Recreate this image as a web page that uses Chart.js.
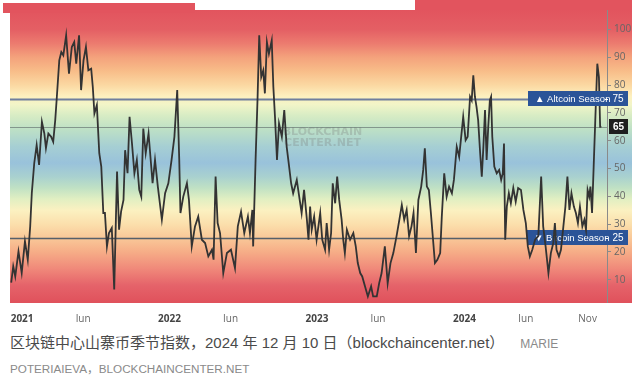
<!DOCTYPE html>
<html><head><meta charset="utf-8">
<script src="https://cdn.jsdelivr.net/npm/chart.js@4/dist/chart.umd.min.js"></script>
<style>
html,body{margin:0;padding:0;background:#fff;width:640px;height:382px;overflow:hidden}
#wrap{position:relative;width:640px;height:322px}
#cap1{position:absolute;left:10px;top:331px;font-family:"Liberation Sans","Noto Sans CJK SC",sans-serif;font-size:15px;color:#4a4a4a;white-space:nowrap;line-height:24px}
#cap1 span{font-size:12px;color:#8a8a8a;margin-left:16px}
#cap2{position:absolute;left:10px;top:360px;font-family:"Liberation Sans","Noto Sans CJK SC",sans-serif;font-size:11.7px;color:#8a8a8a;white-space:nowrap;line-height:18px}
</style></head>
<body>
<div id="wrap"><canvas id="c" width="640" height="322"></canvas></div>
<div id="cap1">区块链中心山寨币季节指数，2024 年 12 月 10 日（blockchaincenter.net）<span>MARIE</span></div>
<div id="cap2">POTERIAIEVA，BLOCKCHAINCENTER.NET</div>
<script>
// days since 2021-01-01
const days = [-27,-22,-17,-9,-1,7,14,20,24,30,36,42,49,55,59,65,72,77,82,86,92,97,102,109,116,123,129,134,141,146,152,158,164,171,175,179,185,191,196,201,205,210,215,222,228,235,240,245,251,255,261,266,272,278,284,290,295,300,306,313,319,323,329,336,
346,354,362,370,377,384,389,392,399,408,413,420,428,436,445,453,461,470,474,479,484,490,498,507,517,527,534,542,550,559,564,570,572,578,583,587,592,597,601,606,611,618,622,626,631,636,643,649,655,659,666,671,680,686,692,698,705,709,713,
717,723,729,738,743,750,754,760,765,769,775,780,785,791,795,799,804,812,820,826,831,837,842,849,856,864,869,878,884,890,898,905,912,919,927,934,940,946,952,958,964,969,975,981,988,993,997,1002,1007,1012,1016,1022,1028,1035,1039,1045,1051,1057,1064,1069,1076,1082,
1087,1092,1098,1103,1109,1113,1117,1121,1125,1129,1134,1138,1142,1146,1150,1154,1158,1161,1164,1169,1175,1181,1186,1190,1193,1196,1200,1205,1210,1216,1222,1228,1235,1241,1247,1252,1257,1263,1270,1278,1285,1290,1296,1303,1309,1315,1319,1323,1329,1334,1340,1345,1350,1355,1360,1366,1371,1376,1381,1387,1392,1396,1400,1404,1407,1411,1415,1419,1424,1428,1431,1434];
const altIndex = [9,14.8,11.2,20.2,12.5,23.8,17.2,29.2,41.2,51.9,58.4,51.3,66.8,62.6,57.3,62.6,61.4,59.6,67.4,75.8,88.9,91.9,90.7,97.9,84.1,93.7,95.5,87.7,97.9,78.2,88.9,93.7,85.3,85.9,79.3,69.8,72.8,55.5,50.7,34,34,22,26.8,28.6,6.5,48.9,28,34.5,38.7,56.6,48.3,68.6,59,48.3,53.1,42.3,39.9,64.4,55.5,62.6,51.9,44.7,53.1,43.5,
31.6,41.1,44.7,53.1,61.4,78.2,53.1,34,39.9,44.7,38.7,22,29.2,32.7,24.4,23.2,18.4,20.8,17.2,47.1,30.4,26.8,12.4,19.6,20.8,14.2,29.2,34.5,26.8,32.7,26.8,35.1,22,53.1,75.8,97.9,82.9,85.3,77,95.5,91.3,96.1,79.3,68.6,53.1,66.2,61.4,71,57.8,53.1,44.7,41.1,45.9,39.9,34,42.3,31.6,24.4,36.3,
28,32.7,24.4,34,24.4,20.8,30.4,20.8,26.8,44.7,37.5,47.1,38.7,31.6,24.4,19.6,28,24.4,26.8,22,16,12.4,11.2,7.6,4,7.6,4,4,8.8,12.4,22,8.8,16,19.6,25.7,31.6,36.9,31.6,35.1,25.7,29.2,34,19.6,38.7,43.5,49.5,57.3,43.5,42.3,34,26.8,16,17.2,19.6,32.7,48.3,39.9,43.5,41.1,45.9,57.8,54.2,
61.4,68.6,60.2,61.4,75.8,74.5,83.5,75.8,72.2,67.4,55.5,47.1,57.8,71,53.1,65,74.6,75.8,61.4,50.7,48.3,49.5,45.9,48.3,59,24.4,36.3,41.1,37.5,43,38.1,43,42.3,35.1,30.4,22,18.4,20.8,24.4,25.7,47.1,29.2,22,12.4,19.6,23.2,30.4,20.8,18.4,20.8,29.2,36.3,47.1,35.1,41.1,36.3,34,30.4,36.3,29.2,31.6,28,42.3,39.9,43.5,34,50.7,67.4,87.7,82.9,65,65];
const tickDays = [0,151,365,516,730,881,1095,1247,1400];
const tickLabels = ["2021","Jun","2022","Jun","2023","Jun","2024","Jun","Nov"];
const yTickValues = [10,20,30,40,50,60,70,80,90,100];
const altcoinLevel = 75, bitcoinLevel = 25, currentValue = 65;

const gradStops = [[107,'#e2545e'],[100,'#e45f64'],[95,'#ec7b6f'],[90,'#f4a27c'],[85,'#f8bd89'],[80,'#fbd8a2'],[76,'#fdf0bf'],[73,'#f2f5c8'],[69,'#d7ecc4'],[64,'#bde0c6'],[58,'#a6cfd3'],[52,'#99c2db'],[47,'#a9d1cf'],[43,'#c0e1c4'],[39,'#e1efc2'],[35,'#fbf1c1'],[30,'#fbdfac'],[25,'#f9c898'],[20,'#f6ad87'],[14,'#f0897a'],[8,'#e5636a'],[2,'#e0525c']];

const bgPlugin = {
  id:'bg',
  beforeDraw(chart){
    const {ctx, chartArea:a, scales:{y}} = chart;
    const right = chart.width - 8;
    const top = y.getPixelForValue(107), bot = y.getPixelForValue(2);
    const g = ctx.createLinearGradient(0, top, 0, bot);
    gradStops.forEach(([v,c])=>{ g.addColorStop(Math.min(1,Math.max(0,(y.getPixelForValue(v)-top)/(bot-top))), c); });
    ctx.save();
    ctx.fillStyle = g;
    ctx.fillRect(a.left, a.top, right - a.left, a.bottom - a.top + 1);
    ctx.fillStyle = '#e2545e';
    ctx.fillRect(3, 3, 192, a.top);
    ctx.fillRect(415, 0, chart.width - 415 - 8, a.top);
    ctx.restore();
  },
  beforeDatasetsDraw(chart){
    const {ctx, chartArea:a, scales:{y}} = chart;
    ctx.save();
    const cx = (a.left + a.right)/2 + 14, cy = y.getPixelForValue(currentValue) + 10;
    ctx.fillStyle = 'rgba(120,120,120,0.28)';
    ctx.font = 'bold 11px "DejaVu Sans", sans-serif';
    ctx.textAlign = 'center'; ctx.textBaseline = 'middle';
    ctx.fillText('BLOCKCHAIN', cx, cy - 5);
    ctx.fillText('CENTER.NET', cx, cy + 6);
    const line = (v, col, w) => { const py = Math.round(y.getPixelForValue(v)) + 0.5; ctx.strokeStyle = col; ctx.lineWidth = w; ctx.beginPath(); ctx.moveTo(a.left, py); ctx.lineTo(a.right, py); ctx.stroke(); };
    line(currentValue, 'rgba(110,125,120,0.75)', 1);
    line(altcoinLevel, '#6f7f9e', 2);
    line(bitcoinLevel, '#56606a', 1.5);
    label(ctx, a.right, y.getPixelForValue(bitcoinLevel), '\u25BC Bitcoin Season', String(bitcoinLevel), 80);
    ctx.restore();
  },
  afterDatasetsDraw(chart){
    const {ctx, chartArea:a, scales:{y}} = chart;
    ctx.save();
    label(ctx, a.right, y.getPixelForValue(altcoinLevel), '\u25B2 Altcoin Season', String(altcoinLevel), 79);
    const py = y.getPixelForValue(currentValue);
    ctx.fillStyle = '#1f1f1f';
    ctx.fillRect(a.right + 2, Math.round(py) - 8, 19, 15);
    ctx.fillStyle = '#fff';
    ctx.font = 'bold 10px "Liberation Sans", sans-serif';
    ctx.textAlign = 'center'; ctx.textBaseline = 'middle';
    ctx.fillText(String(currentValue), a.right + 11.5, py);
    ctx.restore();
  }
};
function label(ctx, right, py, txt, val, leftW){
  ctx.fillStyle = '#2b5498';
  ctx.fillRect(right - leftW, Math.round(py) - 8, leftW + 21, 15);
  ctx.fillStyle = '#fff';
  ctx.font = '9.5px "Liberation Sans", sans-serif';
  ctx.textBaseline = 'middle';
  ctx.textAlign = 'left';
  ctx.fillText(txt, right - leftW + 7, py);
  ctx.fillRect(right - 2, Math.round(py), 3, 1);
  ctx.textAlign = 'center';
  ctx.font = '10px "Liberation Sans", sans-serif';
  ctx.fillText(val, right + 11, py);
}

new Chart(document.getElementById('c'), {
  type:'line',
  data:{datasets:[{
    data: days.map((d,i)=>({x:d, y:altIndex[i]})),
    borderColor:'#333333', borderWidth:1.8, pointRadius:0, tension:0, fill:false
  }]},
  options:{
    responsive:false, animation:false, devicePixelRatio:1,
    layout:{padding:{left:10, top:10, right:0, bottom:0}},
    plugins:{legend:{display:false}, tooltip:{enabled:false}},
    scales:{
      x:{type:'linear', min:-30, max:1448,
        afterBuildTicks(s){ s.ticks = tickDays.map(v=>({value:v})); },
        afterFit(s){ s.height = 20; },
        grid:{display:false}, border:{display:false},
        ticks:{padding:3, maxRotation:0, autoSkip:false,
          color:(c)=> /^\d/.test(tickLabels[c.index]) ? '#444' : '#666',
          font:(c)=> ({family:'"Open Sans", sans-serif', size:10, weight: /^\d/.test(tickLabels[c.index]) ? 'bold' : 'normal'}),
          callback:(v,i)=> tickLabels[i]}
      },
      y:{position:'right', min:2, max:107,
        afterBuildTicks(s){ s.ticks = yTickValues.map(v=>({value:v})); },
        afterFit(s){ s.width = 33; },
        grid:{drawOnChartArea:false, drawTicks:true, tickLength:4, color:'#8a8a8a'},
        border:{display:true, color:'#8a8a8a'},
        ticks:{padding:3, color:'#666', font:{family:'"Open Sans", sans-serif', size:10}}
      }
    }
  },
  plugins:[bgPlugin]
});
</script>
</body></html>
